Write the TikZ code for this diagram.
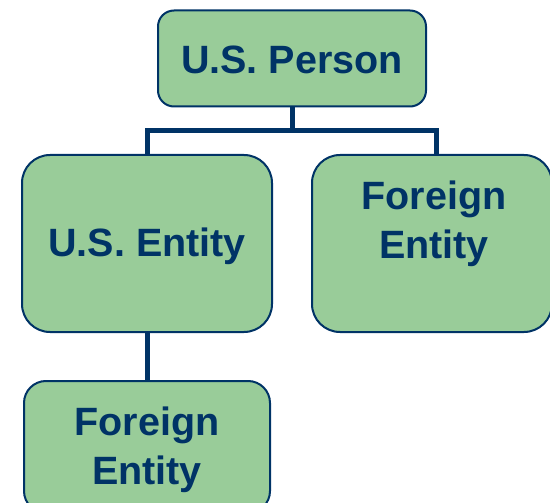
\documentclass[tikz,border=0pt]{standalone}
\usepackage{fontspec}
\setmainfont{Liberation Sans}
\usetikzlibrary{backgrounds}
\definecolor{boxfill}{HTML}{99CC99}
\definecolor{navy}{HTML}{003366}
\begin{document}
\begin{tikzpicture}[x=1pt,y=-1pt,
  box/.style={draw=navy, line width=2pt, fill=boxfill, inner sep=0pt},
  lbl/.style={text=navy, font=\fontsize{39.5}{49}\selectfont\bfseries, align=center, inner sep=0pt},
  conn/.style={draw=navy, line width=5pt, line join=miter}]
\clip (0,0) rectangle (550,503);
\useasboundingbox (0,0) rectangle (550,503);
% junction points of the connectors
\coordinate (jl) at (147,131);
\coordinate (jr) at (436,131);
% boxes
\path (292,58.5) node[box, rounded corners=16pt, minimum width=268pt, minimum height=96pt] (top) {};
\path (147,243.5) node[box, rounded corners=28pt, minimum width=250pt, minimum height=177pt] (left) {};
\path (432,243.5) node[box, rounded corners=28pt, minimum width=240pt, minimum height=177pt] (right) {};
\path (147,447) node[box, rounded corners=22pt, minimum width=246pt, minimum height=132pt] (bottom) {};
% labels
\node[lbl] (ttop) at (292,60) {U.S. Person};
\node[lbl] (tleft) at (147,246) {U.S. Entity};
\node[lbl] (tright) at (434,224) {Foreign\\Entity};
\node[lbl] (tbottom) at (147,449.5) {Foreign\\Entity};
% connectors behind the boxes
\begin{scope}[on background layer]
\draw[conn] (top.south) -- (top.south |- jl);
\draw[conn] (left.north) |- (jr) -- (jr |- right.north);
\draw[conn] (left.south) -- (bottom.north);
\end{scope}
\end{tikzpicture}
\end{document}
